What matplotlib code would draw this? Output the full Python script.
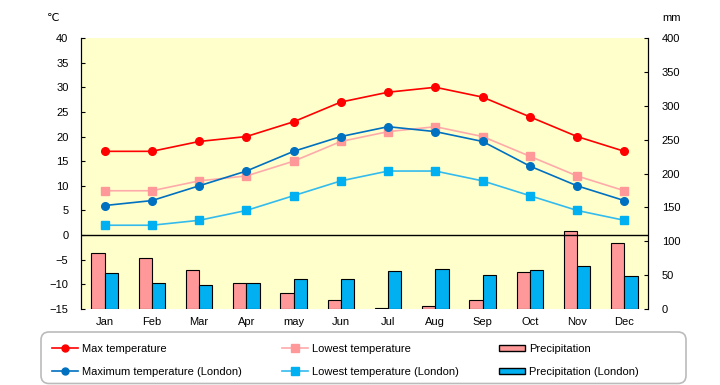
import matplotlib
matplotlib.use("Agg")
import matplotlib.pyplot as plt
import numpy as np
from matplotlib.patches import Patch, FancyBboxPatch
from matplotlib.lines import Line2D
from matplotlib.transforms import IdentityTransform

plt.rcParams['font.family'] = ['Liberation Sans', 'DejaVu Sans']

months = ['Jan', 'Feb', 'Mar', 'Apr', 'may', 'Jun', 'Jul', 'Aug', 'Sep', 'Oct', 'Nov', 'Dec']
max_temp = [17, 17, 19, 20, 23, 27, 29, 30, 28, 24, 20, 17]
low_temp = [9, 9, 11, 12, 15, 19, 21, 22, 20, 16, 12, 9]
max_temp_london = [6, 7, 10, 13, 17, 20, 22, 21, 19, 14, 10, 7]
low_temp_london = [2, 2, 3, 5, 8, 11, 13, 13, 11, 8, 5, 3]
precip = [82, 75, 58, 39, 23, 13, 1, 5, 14, 54, 115, 98]
precip_london = [53, 39, 36, 38, 45, 45, 56, 59, 50, 57, 63, 48]

temp_ticks = list(range(-15, 45, 5))
precip_ticks = list(range(0, 450, 50))

fig = plt.figure(figsize=(7.2, 3.85), dpi=100)
ax2 = fig.add_axes([81/720, 1-309/385, (648-81)/720, (309-38)/385])
ax = ax2.twinx()
ax.yaxis.tick_left()
ax2.yaxis.tick_right()
ax.set_zorder(ax2.get_zorder() + 1)
ax.patch.set_visible(False)
ax2.set_facecolor('#FFFFCC')

x = np.arange(len(months))
w = 0.28
ax2.bar(x - w/2, precip, w, color='#FF9999', edgecolor='black', linewidth=0.8)
ax2.bar(x + w/2, precip_london, w, color='#00B0F0', edgecolor='black', linewidth=0.8)
ax2.set_ylim(0, 400)
ax2.set_yticks(precip_ticks)

ax.plot(x, max_temp, color='#FF0000', marker='o', ms=5.5, lw=1.2)
ax.plot(x, low_temp, color='#FFAAAA', marker='s', ms=6, mfc='#FF9999', mec='#FF9999', lw=1.2)
ax.plot(x, max_temp_london, color='#0070C0', marker='o', ms=5.5, lw=1.2)
ax.plot(x, low_temp_london, color='#33BBEE', marker='s', ms=6, mfc='#00B0F0', mec='#00B0F0', lw=1.2)
ax.axhline(0, color='black', lw=1)
ax.set_ylim(-15, 40)
ax.set_yticks(temp_ticks)
ax.set_xlim(-0.5, 11.5)
ax2.set_xlim(-0.5, 11.5)
ax2.set_xticks(x)
ax2.set_xticklabels(months)

for a in (ax, ax2):
    a.spines['top'].set_visible(False)
    a.spines['bottom'].set_visible(False)
ax.tick_params(axis='y', direction='in', length=3, pad=9, labelsize=8)
ax2.tick_params(axis='y', direction='in', length=3, pad=10, labelsize=8)
ax2.tick_params(axis='x', length=0, pad=6, labelsize=8)

fig.text(47/720, 1-18/385, '℃', fontsize=8, va='center', ha='left')
fig.text(662/720, 1-18/385, 'mm', fontsize=8, va='center', ha='left')

# legend frame
frame = FancyBboxPatch((41, 1.5), 645, 51.5, boxstyle='round,pad=0,rounding_size=8',
                       transform=IdentityTransform(), facecolor='white',
                       edgecolor='#BBBBBB', linewidth=1.2, zorder=0)
fig.patches.append(frame)

handles = [
    Line2D([], [], color='#FF0000', marker='o', ms=5, lw=1.2),
    Line2D([], [], color='#0070C0', marker='o', ms=5, lw=1.2),
    Line2D([], [], color='#FFAAAA', marker='s', ms=5.5, mfc='#FF9999', mec='#FF9999', lw=1.2),
    Line2D([], [], color='#33BBEE', marker='s', ms=5.5, mfc='#00B0F0', mec='#00B0F0', lw=1.2),
    Patch(facecolor='#FF9999', edgecolor='black', linewidth=1),
    Patch(facecolor='#00B0F0', edgecolor='black', linewidth=1),
]
labels = ['Max temperature', 'Maximum temperature (London)',
          'Lowest temperature', 'Lowest temperature (London)',
          'Precipitation', 'Precipitation (London)']
leg = fig.legend(handles, labels, ncol=3, loc='upper left',
                 bbox_to_anchor=(52/720, 1-344/385),
                 fontsize=8, frameon=False,
                 handlelength=2.35, handletextpad=0.35, handleheight=0.5,
                 labelspacing=1.15, borderaxespad=0, borderpad=0,
                 columnspacing=3.6)

fig.savefig('out.png', dpi=100)
